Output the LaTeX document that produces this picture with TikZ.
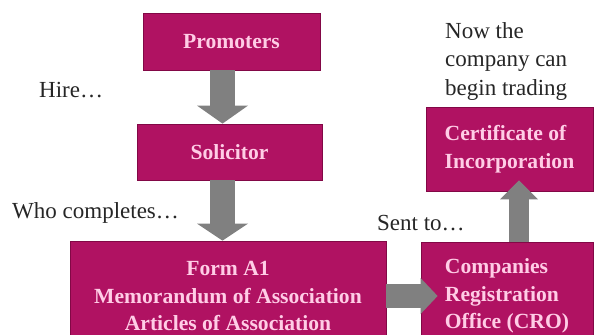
\documentclass[tikz,border=0pt]{standalone}
\usepackage{fontspec}
\setmainfont{Liberation Serif}
\usetikzlibrary{arrows.meta}
\definecolor{boxmagenta}{RGB}{176,18,98}
\definecolor{boxedge}{RGB}{130,8,70}
\definecolor{boxtext}{RGB}{255,205,230}
\definecolor{arrowgrey}{RGB}{128,128,128}
\begin{document}
\begin{tikzpicture}[x=1pt,y=-1pt,
        stage/.style={draw=boxedge,line width=0.8pt,fill=boxmagenta,text=boxtext,align=center,
            font=\fontsize{21.6}{27.5}\selectfont\bfseries,inner sep=0pt},
        note/.style={text=black!85,align=left,font=\fontsize{23}{28.5}\selectfont,inner sep=0pt},
        blockarrow/.style n args={3}{arrowgrey,line width=#1,
            -{Triangle[width=#2,length=#3,line width=0pt]}}]
    \useasboundingbox (0,0) rectangle (595,335);
    \clip (0,0) rectangle (595,335);
    %% steps
    \node[stage,minimum width=177pt,minimum height=57pt] (prom) at (231.5,41.5) {Promoters};
    \node[stage,minimum width=185pt,minimum height=56pt] (sol) at (229.5,152) {Solicitor};
    \node[stage,minimum width=316pt,minimum height=110pt] (form) at (228,296)
        {Form A1\\Memorandum of Association\\Articles of Association};
    \node[stage,align=left,minimum width=172pt,minimum height=108pt] (cro) at (507,296)
        {Companies\\Registration\\Office (CRO)};
    \node[stage,align=left,minimum width=167pt,minimum height=84pt] (cert) at (509.5,149)
        {Certificate of\\Incorporation};
    %% notes
    \node[note,anchor=base west] (hire) at (39,97) {Hire\ldots};
    \node[note,anchor=base west] (who) at (12,218) {Who completes\ldots};
    \node[note,anchor=base west] (sent) at (377,230) {Sent to\ldots};
    \node[note,anchor=north west] (now) at (445,22) {Now the\\company can\\begin trading};
    %% arrows
    \draw[blockarrow={25pt}{51pt}{18pt}] ([xshift=-9pt]prom.south) -- ([xshift=-7pt]sol.north);
    \draw[blockarrow={25pt}{51pt}{17pt}] ([xshift=-7pt]sol.south) -- ([xshift=-5.5pt]form.north);
    \draw[blockarrow={24pt}{36pt}{17pt}] (form.east) -- ([xshift=17pt]cro.west);
    \draw[blockarrow={20pt}{38pt}{19pt}] ([xshift=12pt]cro.north) -- ([xshift=9.5pt,yshift=11pt]cert.south);
\end{tikzpicture}
\end{document}
